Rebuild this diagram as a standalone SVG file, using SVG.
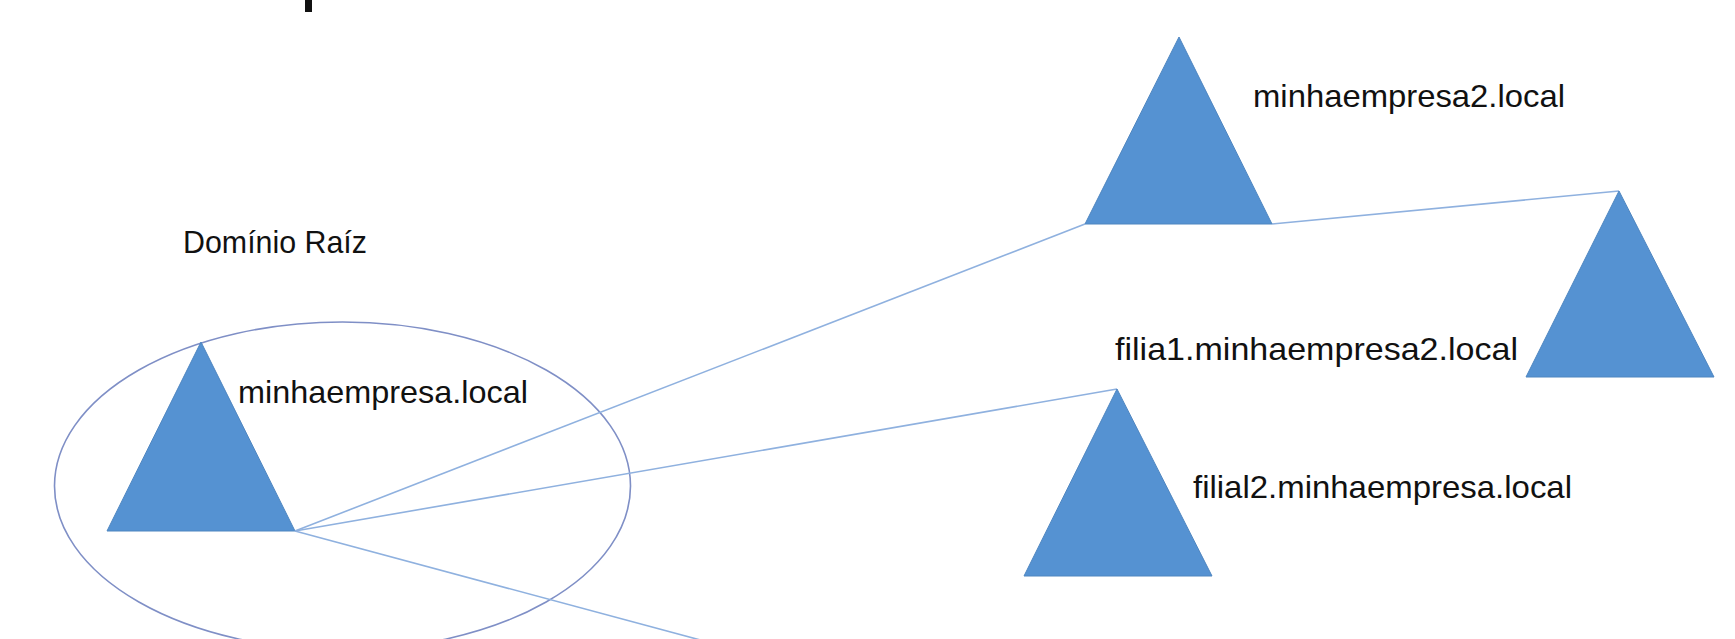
<svg xmlns="http://www.w3.org/2000/svg" width="1735" height="639" viewBox="0 0 1735 639">
<style>
.tri{fill:#5592d2;stroke:#4f86c0;stroke-width:1}
.lbl{font-family:"Liberation Sans",Arial,sans-serif;font-size:32px;fill:#111}
.conn{stroke:#8fb1df;stroke-width:1.6;fill:none}
</style>
<rect x="0" y="0" width="1735" height="639" fill="#ffffff"/>
<rect x="305" y="0" width="7" height="12" fill="#111"/>
<g id="root-domain">
<ellipse cx="342.5" cy="486" rx="288" ry="164" fill="none" stroke="#7f8fc6" stroke-width="1.6"/>
<polygon class="tri" points="201,342 107,531 295,531"/>
<text class="lbl" x="238" y="403" textLength="290" lengthAdjust="spacingAndGlyphs">minhaempresa.local</text>
</g>
<g id="label-raiz">
<text class="lbl" x="183" y="253" font-size="30" textLength="184" lengthAdjust="spacingAndGlyphs">Domínio Raíz</text>
</g>
<g id="connectors">
<line class="conn" x1="295" y1="531" x2="1085" y2="224"/>
<line class="conn" x1="1272" y1="224" x2="1619" y2="191"/>
<line class="conn" x1="295" y1="531" x2="1117" y2="389"/>
<line class="conn" x1="295" y1="531" x2="719" y2="645"/>
</g>
<g id="minhaempresa2">
<polygon class="tri" points="1179,37 1085,224 1272,224"/>
<text class="lbl" x="1253" y="107" textLength="312" lengthAdjust="spacingAndGlyphs">minhaempresa2.local</text>
</g>
<g id="filia1">
<polygon class="tri" points="1619,191 1526,377 1714,377"/>
<text class="lbl" x="1115" y="360" textLength="403" lengthAdjust="spacingAndGlyphs">filia1.minhaempresa2.local</text>
</g>
<g id="filial2">
<polygon class="tri" points="1117,389 1024,576 1212,576"/>
<text class="lbl" x="1193" y="498" textLength="379" lengthAdjust="spacingAndGlyphs">filial2.minhaempresa.local</text>
</g>
</svg>
